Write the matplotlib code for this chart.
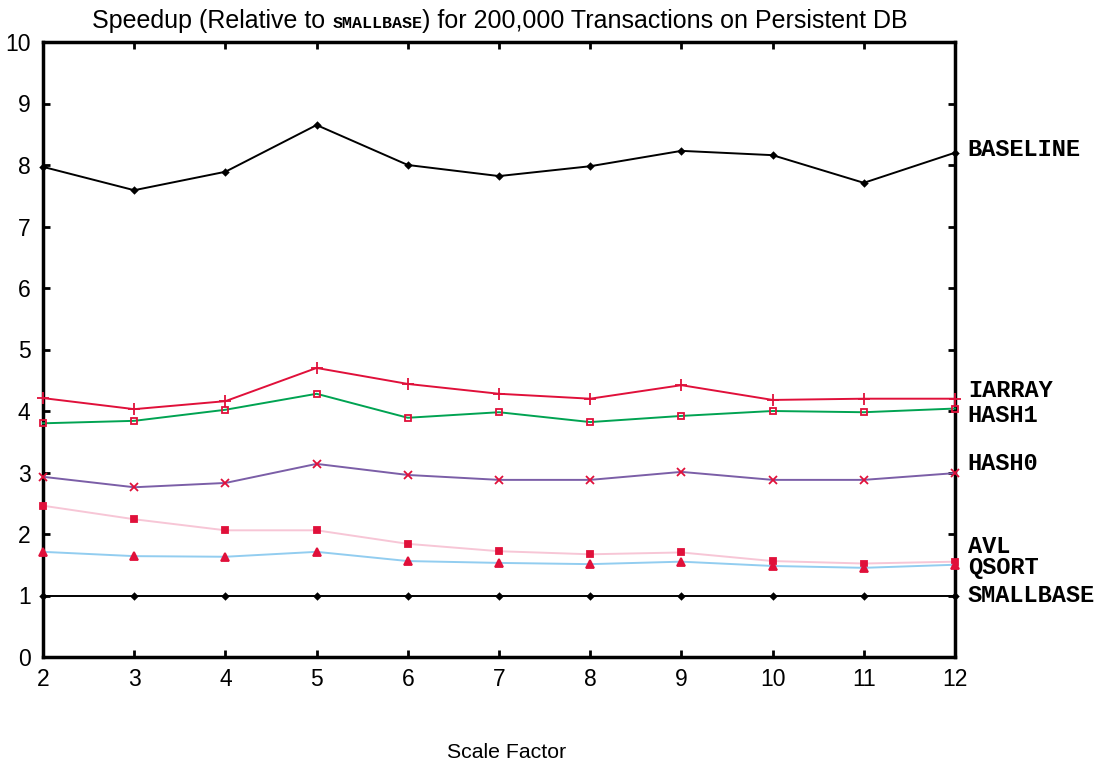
import matplotlib
matplotlib.use("Agg")
import matplotlib.pyplot as plt
from matplotlib.offsetbox import TextArea, HPacker, AnnotationBbox

scale = [2, 3, 4, 5, 6, 7, 8, 9, 10, 11, 12]

baseline = [7.97, 7.59, 7.89, 8.65, 8.00, 7.82, 7.98, 8.23, 8.16, 7.71, 8.20]
iarray = [4.21, 4.03, 4.16, 4.70, 4.44, 4.28, 4.20, 4.42, 4.18, 4.20, 4.20]
hash1 = [3.80, 3.84, 4.02, 4.28, 3.89, 3.98, 3.82, 3.92, 4.00, 3.98, 4.04]
hash0 = [2.93, 2.76, 2.83, 3.14, 2.96, 2.88, 2.88, 3.01, 2.88, 2.88, 2.99]
avl = [2.46, 2.24, 2.06, 2.06, 1.84, 1.72, 1.67, 1.70, 1.56, 1.52, 1.55]
qsort = [1.71, 1.64, 1.63, 1.71, 1.56, 1.53, 1.51, 1.55, 1.48, 1.45, 1.50]
smallbase = [1.0] * len(scale)

RED = "#e0103a"

# name, values, line colour, marker, marker face, marker size, label y
series = [
    ("BASELINE", baseline, "black", "D", "black", 3, 8.26),
    ("IARRAY", iarray, RED, "+", RED, 8, 4.34),
    ("HASH1", hash1, "#00a352", "s", "none", 5, 3.93),
    ("HASH0", hash0, "#7b5ea7", "x", RED, 6, 3.15),
    ("AVL", avl, "#f7c6d6", "s", RED, 4.5, 1.80),
    ("QSORT", qsort, "#92cdf0", "^", RED, 6, 1.46),
    ("SMALLBASE", smallbase, "black", "D", "black", 3, 1.0),
]

plt.rcParams["font.family"] = ["Liberation Sans", "DejaVu Sans"]

fig = plt.figure(figsize=(11.05, 7.63), dpi=100)
ax = fig.add_axes([43 / 1105, 1 - 657 / 763, 912 / 1105, 615 / 763])

for name, vals, color, marker, face, ms, ly in series:
    edge = "black" if color == "black" else RED
    ax.plot(scale, vals, color=color, lw=1.4, marker=marker, ms=ms,
            markerfacecolor=face, markeredgecolor=edge,
            markeredgewidth=1.3, clip_on=False, zorder=3)
    ax.text(12.14, ly, name, fontsize=17, fontweight="bold",
            family="Liberation Mono", va="center", ha="left")

ax.set_xlim(2, 12)
ax.set_ylim(0, 10)
ax.set_xticks(scale)
ax.set_yticks(range(0, 11))
ax.tick_params(direction="in", length=5, width=2, top=True, right=True,
               labelsize=16.5, pad=8)
ax.tick_params(axis="y", pad=9)
for sp in ax.spines.values():
    sp.set_linewidth(2.5)

# title with the code name set in bold monospace
sans = dict(fontsize=18, family="Liberation Sans")
parts = [
    TextArea("Speedup (Relative to ", textprops=sans),
    TextArea("SMALLBASE", textprops=dict(fontsize=12, family="Liberation Mono",
                                         fontweight="bold")),
    TextArea(") for 200,000 Transactions on Persistent DB", textprops=sans),
]
box = HPacker(children=parts, align="baseline", pad=0, sep=0)
ab = AnnotationBbox(box, (500 / 1105, 1 - 21 / 763), xycoords="figure fraction",
                    frameon=False, box_alignment=(0.5, 0.5))
fig.add_artist(ab)

fig.text(507 / 1105, 1 - 752 / 763, "Scale Factor", fontsize=15.3,
         ha="center", va="center")

fig.savefig("out.png", dpi=100)
